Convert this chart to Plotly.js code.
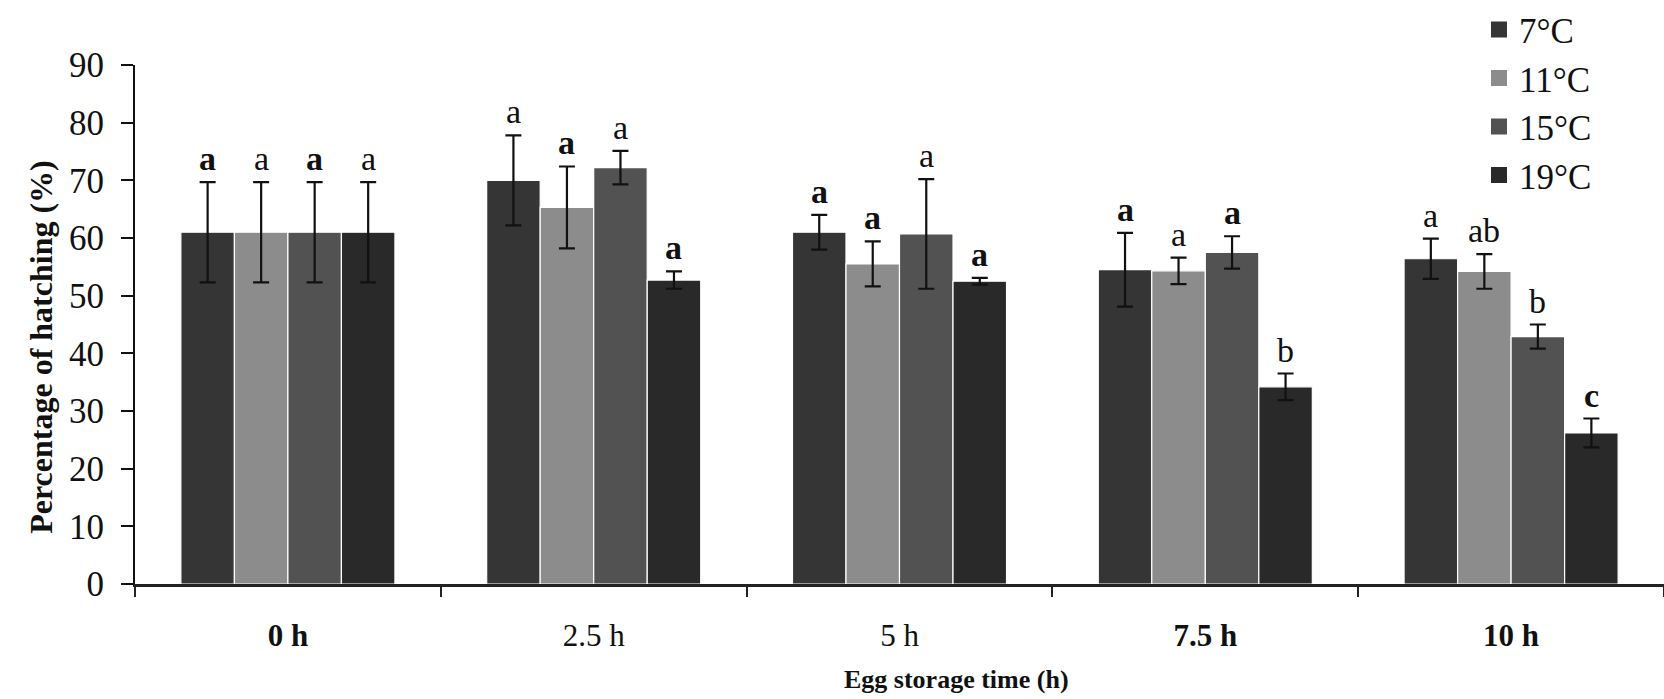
<!DOCTYPE html>
<html>
<head>
<meta charset="utf-8">
<script src="https://cdn.plot.ly/plotly-3.0.1.min.js"></script>
<style>
  html, body { margin: 0; padding: 0; background: #fff; }
  #chart { width: 1664px; height: 699px; }
</style>
</head>
<body>
<div id="chart"></div>
<script>
// ---- data ----
const times = ['0 h', '2.5 h', '5 h', '7.5 h', '10 h'];
const timeBold = [true, false, false, true, true];
const temps = ['7°C', '11°C', '15°C', '19°C'];

const hatch7  = [61, 70.0, 61.0, 54.5, 56.4];
const err7    = [8.7, 7.8, 3.0, 6.4, 3.5];
const hatch11 = [61, 65.3, 55.5, 54.3, 54.2];
const err11   = [8.7, 7.1, 3.9, 2.3, 3.0];
const hatch15 = [61, 72.2, 60.7, 57.5, 42.9];
const err15   = [8.7, 2.9, 9.5, 2.8, 2.1];
const hatch19 = [61, 52.7, 52.5, 34.2, 26.2];
const err19   = [8.7, 1.5, 0.6, 2.3, 2.5];

const letters7  = ['a', 'a', 'a', 'a', 'a'];
const letters11 = ['a', 'a', 'a', 'a', 'ab'];
const letters15 = ['a', 'a', 'a', 'a', 'b'];
const letters19 = ['a', 'a', 'a', 'b', 'c'];
const bold7  = [true, false, true, true, false];
const bold11 = [false, true, true, false, false];
const bold15 = [true, false, false, true, false];
const bold19 = [false, true, true, false, true];

const xTitle = 'Egg storage time (h)';
const yTitle = 'Percentage of hatching (%)';

const colors = ['#353535', '#8c8c8c', '#525252', '#292929'];

// ---- build ----
const FONT = '"Liberation Serif", "Times New Roman", Times, serif';
const values = [hatch7, hatch11, hatch15, hatch19];
const errors = [err7, err11, err15, err19];
const letters = [letters7, letters11, letters15, letters19];
const bolds = [bold7, bold11, bold15, bold19];

const bargap = 0.3;
const nSeries = temps.length;

const traces = [];
temps.forEach((t, k) => {
  traces.push({
    type: 'bar',
    name: t,
    x: times,
    y: values[k],
    showlegend: false,
    marker: { color: colors[k], line: { color: '#ffffff', width: 1.2 } },
    error_y: { type: 'data', array: errors[k], visible: true, color: '#111', thickness: 2.2, width: 8 }
  });
});
// legend entries
temps.forEach((t, k) => {
  traces.push({
    type: 'scatter', mode: 'markers', name: t,
    x: [null], y: [null],
    marker: { symbol: 'square', size: 16, color: colors[k] },
    hoverinfo: 'skip'
  });
});

const annotations = [];
const groupW = 1 - bargap;
const barW = groupW / nSeries;
temps.forEach((t, k) => {
  times.forEach((c, i) => {
    const txt = bolds[k][i] ? '<b>' + letters[k][i] + '</b>' : letters[k][i];
    annotations.push({
      xref: 'x', yref: 'y',
      x: i - groupW / 2 + (k + 0.5) * barW,
      y: values[k][i] + errors[k][i],
      text: txt, showarrow: false,
      yanchor: 'bottom', yshift: 3,
      font: { family: FONT, size: 34, color: '#111' }
    });
  });
});
// axis titles
annotations.push({
  xref: 'paper', yref: 'paper', x: 0.5376, y: -0.1835,
  xanchor: 'center', yanchor: 'middle', showarrow: false,
  text: '<b>' + xTitle + '</b>',
  font: { family: FONT, size: 26, color: '#111' }
});
annotations.push({
  xref: 'paper', yref: 'paper', x: -0.0615, y: 0.457,
  xanchor: 'center', yanchor: 'middle', showarrow: false, textangle: -90,
  text: '<b>' + yTitle + '</b>',
  font: { family: FONT, size: 32, color: '#111' }
});

const layout = {
  width: 1664, height: 699,
  margin: { l: 135, r: 0, t: 60, b: 115 },
  paper_bgcolor: '#fff', plot_bgcolor: '#fff',
  font: { family: FONT, color: '#111' },
  barmode: 'group',
  bargap: bargap,
  bargroupgap: 0,
  showlegend: true,
  legend: {
    x: 0.879, y: 1.125, xanchor: 'left', yanchor: 'top',
    font: { family: FONT, size: 35, color: '#111' },
    bgcolor: 'rgba(0,0,0,0)', tracegroupgap: 0
  },
  xaxis: {
    type: 'category',
    tickvals: times,
    ticktext: times.map((s, i) => timeBold[i] ? '<b>' + s + '</b>' : s),
    showline: true, linecolor: '#222', linewidth: 3,
    ticks: 'outside', tickson: 'boundaries', ticklen: 10, tickwidth: 2, tickcolor: '#222',
    tickfont: { family: FONT, size: 31, color: '#111' },
    ticklabelstandoff: 22,
    showgrid: false, zeroline: false,
    automargin: false
  },
  yaxis: {
    range: [0, 90],
    tickvals: [0, 10, 20, 30, 40, 50, 60, 70, 80, 90],
    showline: true, linecolor: '#111', linewidth: 2,
    ticks: 'outside', ticklen: 12, tickwidth: 2, tickcolor: '#111',
    tickfont: { family: FONT, size: 35, color: '#111' },
    ticklabelstandoff: 10,
    showgrid: false, zeroline: false,
    automargin: false
  },
  annotations: annotations
};

Plotly.newPlot('chart', traces, layout, { displayModeBar: false, staticPlot: true });
</script>
</body>
</html>
